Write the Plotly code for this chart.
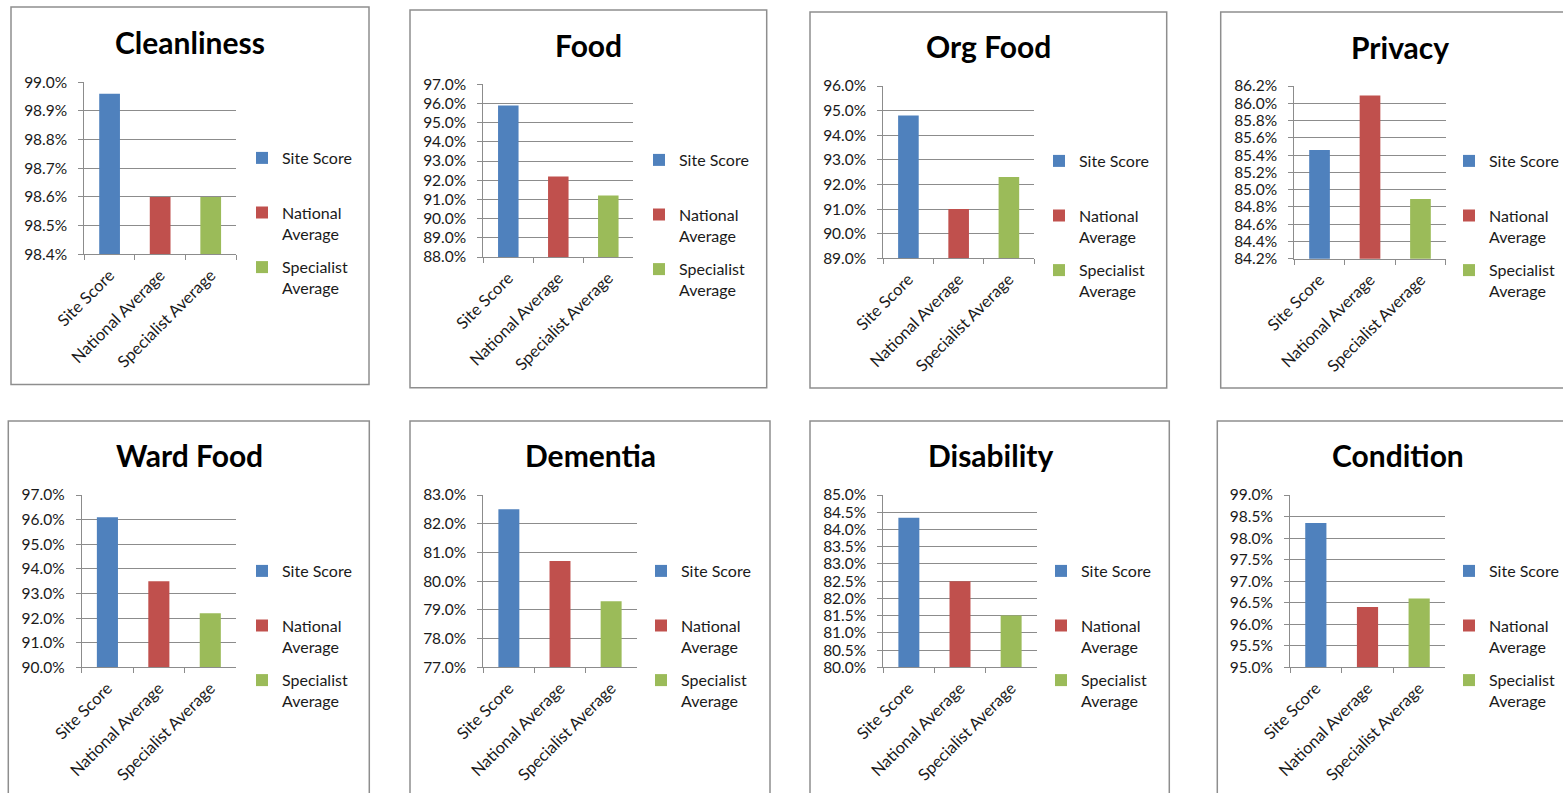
import plotly.graph_objects as go

W, H = 1563, 793

# ---------------- data ----------------
titles = ["Cleanliness", "Food", "Org Food", "Privacy",
          "Ward Food", "Dementia", "Disability", "Condition"]
categories = ["Site Score", "National Average", "Specialist Average"]
legend_names = ["Site Score<br> ", "National<br>Average", "Specialist<br>Average"]
site_score = [0.9896, 0.959, 0.948, 0.8546, 0.961, 0.825, 0.8434, 0.9835]
national_avg = [0.986, 0.922, 0.910, 0.8609, 0.935, 0.807, 0.825, 0.964]
specialist_avg = [0.986, 0.912, 0.923, 0.8489, 0.922, 0.793, 0.815, 0.966]
y_min = [0.984, 0.88, 0.89, 0.842, 0.90, 0.77, 0.80, 0.95]
y_max = [0.990, 0.97, 0.96, 0.862, 0.97, 0.83, 0.85, 0.99]
y_step = [0.001, 0.01, 0.01, 0.002, 0.01, 0.01, 0.005, 0.005]

colors = ["#4F81BD", "#C0504D", "#9BBB59"]

# ---------------- layout geometry (pixels) ----------------
plot_px = [(84.3, 236, 82.3, 254.3), (483.3, 633.3, 84.3, 257),
           (883.3, 1034, 86, 258.3), (1294.3, 1445.7, 86, 258.7),
           (81.7, 236, 495, 667.3), (483.3, 636.7, 495, 667.3),
           (883.3, 1036.7, 495, 667.3), (1290, 1445, 495, 667.3)]
frame_px = [(11, 7, 369, 384.5), (410, 10, 766.7, 387.7),
            (810, 12, 1166.7, 388), (1220.7, 12, 1620, 388),
            (8.3, 421, 369.3, 840), (410, 421, 770, 840),
            (810, 421, 1169.3, 840), (1217.3, 421, 1620, 840)]
title_px = [(190, 42), (588, 45), (988, 46), (1400, 47),
            (189, 455), (590, 455), (990, 455), (1398, 455)]
legend_px = [(283, 158), (680, 160), (1080, 161), (1490, 161),
             (283, 571), (682, 571), (1082, 571), (1490, 571)]

FONT = "Lato, Calibri, Carlito, sans-serif"
GRID = "#8c8c8c"
TXT = "#1a1a1a"

def px_x(x):
    return x / W

def px_y(y):
    return 1 - y / H

fig = go.Figure()
layout = dict(
    width=W, height=H,
    margin=dict(l=0, r=0, t=0, b=0, pad=0, autoexpand=False),
    paper_bgcolor="white", plot_bgcolor="white",
    barmode="overlay",
    font=dict(family=FONT, size=15, color=TXT),
    annotations=[], shapes=[],
)

series = [site_score, national_avg, specialist_avg]

for i in range(8):
    n = i + 1
    xa = "x" if n == 1 else f"x{n}"
    ya = "y" if n == 1 else f"y{n}"
    lg = "legend" if n == 1 else f"legend{n}"
    for j in range(3):
        fig.add_trace(go.Bar(
            x=[categories[j]], y=[series[j][i]],
            name=legend_names[j], marker=dict(color=colors[j], line=dict(width=0)),
            width=0.41, xaxis=xa, yaxis=ya, legend=lg,
            legendgroup=f"p{n}_{j}", showlegend=True,
            hovertemplate="%{x}: %{y:.1%}<extra></extra>",
        ))
    x0, x1, yt, yb = plot_px[i]
    layout["xaxis" if n == 1 else f"xaxis{n}"] = dict(
        domain=[px_x(x0), px_x(x1)], anchor=ya,
        type="category", categoryorder="array", categoryarray=categories,
        showline=True, linecolor=GRID, linewidth=1,
        ticks="outside", tickson="boundaries", ticklen=5, tickcolor=GRID,
        tickangle=-45, ticklabelstandoff=4,
        tickfont=dict(family=FONT, size=16.5, color=TXT),
        showgrid=False, fixedrange=True,
    )
    layout["yaxis" if n == 1 else f"yaxis{n}"] = dict(
        domain=[px_y(yb), px_y(yt)], anchor=xa,
        range=[y_min[i], y_max[i] + 1e-9], tick0=y_min[i], dtick=y_step[i],
        tickformat=".1%", showgrid=True, gridcolor=GRID, gridwidth=1,
        showline=True, linecolor=GRID, linewidth=1,
        ticks="outside", ticklen=5, tickcolor=GRID, zeroline=False,
        ticklabelstandoff=8,
        tickfont=dict(family=FONT, size=15.5, color=TXT), fixedrange=True,
    )
    lx, ly = legend_px[i]
    layout[lg] = dict(
        x=px_x(lx - 41), y=px_y(ly - 17), xanchor="left", yanchor="top",
        orientation="v", valign="top", tracegroupgap=10,
        bgcolor="rgba(0,0,0,0)", borderwidth=0,
        font=dict(family=FONT, size=16, color=TXT),
    )
    tx, ty = title_px[i]
    layout["annotations"].append(dict(
        text=f"<b>{titles[i]}</b>", x=px_x(tx), y=px_y(ty),
        xref="paper", yref="paper", xanchor="center", yanchor="middle",
        showarrow=False, font=dict(family=FONT, size=30, color="black"),
    ))
    fx0, fy0, fx1, fy1 = frame_px[i]
    layout["shapes"].append(dict(
        type="rect", xref="paper", yref="paper",
        x0=px_x(fx0), x1=px_x(fx1), y0=px_y(fy1), y1=px_y(fy0),
        line=dict(color="#8e8e8e", width=1.5), layer="below",
    ))

fig.update_layout(**layout)
fig.write_html("out.html", config=dict(displayModeBar=False))
